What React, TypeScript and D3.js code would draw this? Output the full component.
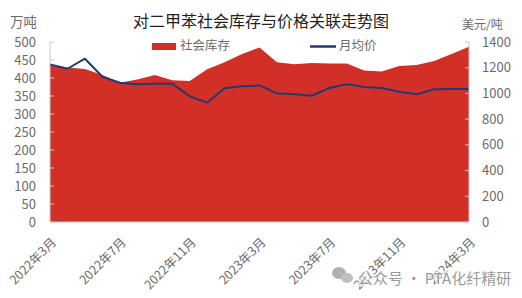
import React from "react";
import * as d3 from "d3";

const months: string[] = [
  "2022年3月","2022年4月","2022年5月","2022年6月","2022年7月","2022年8月","2022年9月","2022年10月",
  "2022年11月","2022年12月","2023年1月","2023年2月","2023年3月","2023年4月","2023年5月","2023年6月",
  "2023年7月","2023年8月","2023年9月","2023年10月","2023年11月","2023年12月","2024年1月","2024年2月","2024年3月",
];
const inventory: number[] = [
  438, 429, 425, 408, 387, 396, 408, 394, 392, 424, 444, 467, 485,
  444, 438, 442, 440, 440, 421, 418, 433, 436, 447, 467, 487,
];
const price: number[] = [
  1226, 1192, 1270, 1130, 1083, 1071, 1076, 1076, 978, 928, 1040, 1055, 1062,
  1001, 993, 982, 1043, 1071, 1050, 1042, 1013, 994, 1033, 1034, 1034,
];
const leftTicks: number[] = [0, 50, 100, 150, 200, 250, 300, 350, 400, 450, 500];
const rightTicks: number[] = [0, 200, 400, 600, 800, 1000, 1200, 1400];
const labelEvery = 4;

const W = 522, H = 298;
const L = 50, R = 469, T = 42, B = 222;
const FONT = "'Noto Sans CJK SC', 'Noto Sans', sans-serif";
const RED = "#D23026";
const BLUE = "#1F3A78";
const GRAY = "#6b6b6b";

export default function App() {
  const x = d3.scalePoint<number>().domain(months.map((_, i) => i)).range([L, R]);
  const yL = d3.scaleLinear().domain([0, 500]).range([B, T]);
  const yR = d3.scaleLinear().domain([0, 1400]).range([B, T]);

  const area = d3.area<number>()
    .x((_, i) => x(i)!)
    .y0(B)
    .y1((d) => yL(d));
  const line = d3.line<number>()
    .x((_, i) => x(i)!)
    .y((d) => yR(d));

  return (
    <svg width={W} height={H} style={{ position: "absolute", left: 0, top: 0, background: "#fff" }} fontFamily={FONT}>
      <rect x={0} y={0} width={W} height={H} fill="#fff" />
      <text x={261} y={27} textAnchor="middle" fontSize={16} fill="#222">对二甲苯社会库存与价格关联走势图</text>
      <text x={10} y={27} fontSize={13.5} fill={GRAY}>万吨</text>
      <text x={462} y={29} fontSize={12} fill={GRAY}>美元/吨</text>

      <path d={area(inventory)!} fill={RED} />
      <path d={line(price)!} fill="none" stroke={BLUE} strokeWidth={2} strokeLinejoin="round" />

      {/* axes */}
      <line x1={L} x2={L} y1={T} y2={B} stroke="#c8c8c8" />
      <line x1={R} x2={R} y1={T} y2={B} stroke="#c8c8c8" />
      <line x1={L} x2={R} y1={B} y2={B} stroke="#c8c8c8" />
      {leftTicks.map((t) => (
        <g key={"l" + t}>
          <line x1={L} x2={L + 4} y1={yL(t)} y2={yL(t)} stroke="#c8c8c8" />
          <text x={36} y={yL(t)} dy="0.35em" textAnchor="end" fontSize={13} fill={GRAY}>{t}</text>
        </g>
      ))}
      {rightTicks.map((t) => (
        <g key={"r" + t}>
          <line x1={R - 4} x2={R} y1={yR(t)} y2={yR(t)} stroke="#c8c8c8" />
          <text x={482} y={yR(t)} dy="0.35em" textAnchor="start" fontSize={13} fill={GRAY}>{t}</text>
        </g>
      ))}
      {months.map((m, i) =>
        i % labelEvery === 0 ? (
          <text key={m} transform={`translate(${x(i)! + 4},${240}) rotate(-45)`} textAnchor="end" dy="0.35em" fontSize={12.5} fill={GRAY}>{m}</text>
        ) : null
      )}

      {/* legend */}
      <rect x={152} y={43} width={24} height={7} fill={RED} />
      <text x={180} y={46} dy="0.35em" fontSize={12.5} fill={GRAY}>社会库存</text>
      <line x1={310} x2={336} y1={46.5} y2={46.5} stroke={BLUE} strokeWidth={2.5} />
      <text x={339} y={46} dy="0.35em" fontSize={12.5} fill={GRAY}>月均价</text>

      {/* watermark */}
      <g>
        <text x={358} y={284} fontSize={15} fill="#fff" stroke="#fff" strokeWidth={4} opacity={0.6}>公众号 · PTA化纤精研</text>
        <ellipse cx={339} cy={273} rx={7} ry={6} fill="#b0b0b0" />
        <ellipse cx={347} cy={278} rx={6} ry={5} fill="#c0c0c0" />
        <text x={358} y={284} fontSize={15} fill="#9a9a9a">公众号 · PTA化纤精研</text>
      </g>
    </svg>
  );
}
